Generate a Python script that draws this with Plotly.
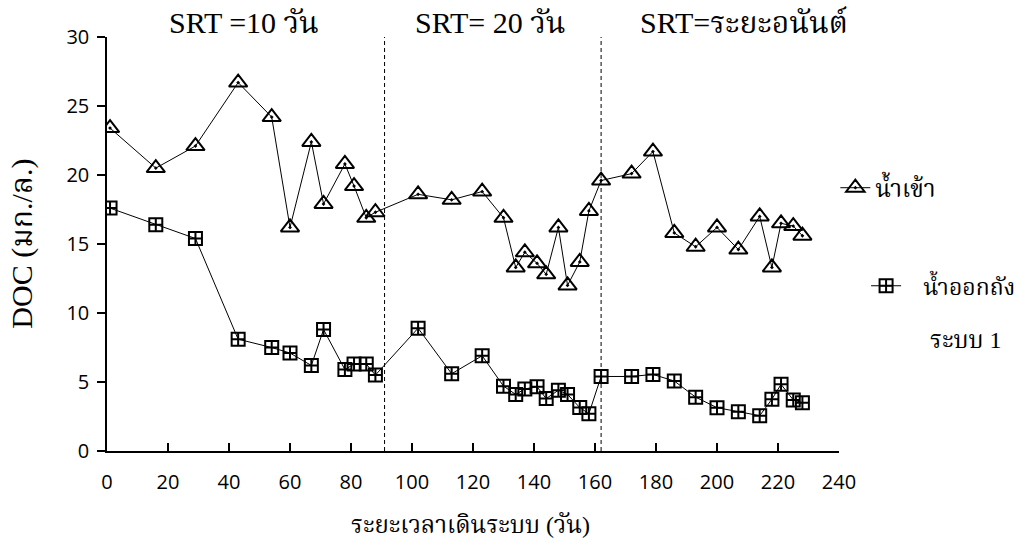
import plotly.graph_objects as go

# Operating days of the reactor and DOC readings (mg/L)
inflow_days = [1, 16, 29, 43, 54, 60, 67, 71, 78, 81, 85, 88,
               102, 113, 123, 130, 134, 137, 141, 144, 148, 151, 155, 158, 162,
               172, 179, 186, 193, 200, 207, 214, 218, 221, 225, 228]
inflow_doc = [23.4, 20.5, 22.1, 26.7, 24.2, 16.2, 22.4, 17.9, 20.8, 19.2, 16.9, 17.3,
              18.6, 18.2, 18.8, 16.9, 13.3, 14.4, 13.6, 12.8, 16.2, 12.0, 13.7, 17.4, 19.6,
              20.1, 21.7, 15.8, 14.8, 16.2, 14.6, 17.0, 13.3, 16.5, 16.3, 15.6]

outflow_days = inflow_days
outflow_doc = [17.6, 16.4, 15.4, 8.1, 7.5, 7.1, 6.2, 8.8, 5.9, 6.3, 6.3, 5.5,
               8.9, 5.6, 6.9, 4.7, 4.1, 4.5, 4.65, 3.8, 4.4, 4.1, 3.15, 2.7, 5.4,
               5.4, 5.55, 5.07, 3.9, 3.14, 2.85, 2.56, 3.75, 4.83, 3.7, 3.5]

# SRT phase boundaries (days) and phase labels
phase_bounds = [91, 162]
phase_labels = ["SRT =10 วัน", "SRT= 20 วัน", "SRT=ระยะอนันต์"]
phase_label_x = [45, 125.5, 209]

x_ticks = list(range(0, 241, 20))
y_ticks = list(range(0, 31, 5))

SERIF = "Liberation Serif, Noto Serif Thai, Noto Sans Thai, serif"
SANS = "Liberation Sans Narrow, Open Sans, Noto Sans Thai, sans-serif"
NBSP = "\u00a0"

fig = go.Figure()

fig.add_trace(go.Scatter(
    x=inflow_days, y=inflow_doc, mode="lines+markers", name="น้ำเข้า",
    line=dict(color="black", width=1),
    marker=dict(symbol="triangle-up-open-dot", size=16, color="black",
                line=dict(color="black", width=2)),
    legend="legend",
))
fig.add_trace(go.Scatter(
    x=outflow_days, y=outflow_doc, mode="lines+markers",
    name=NBSP * 3 + "น้ำออกถัง",
    line=dict(color="black", width=1),
    marker=dict(symbol="square-cross-open", size=13, color="black",
                line=dict(color="black", width=2)),
    legend="legend2",
))

for xb in phase_bounds:
    fig.add_shape(type="line", xref="x", yref="y", x0=xb, x1=xb, y0=0, y1=30,
                  line=dict(color="black", width=1, dash="4px,3px"))

for lbl, lx in zip(phase_labels, phase_label_x):
    fig.add_annotation(text=lbl, x=lx, xref="x", y=1.036, yref="paper",
                       xanchor="center", yanchor="middle", showarrow=False,
                       font=dict(family=SERIF, size=30, color="black"))

fig.add_annotation(text="DOC (มก./ล.)", x=-0.1166, xref="paper", y=0.5, yref="paper",
                   xanchor="center", yanchor="middle", textangle=-90, showarrow=False,
                   font=dict(family=SERIF, size=30, color="black"))
fig.add_annotation(text="ระยะเวลาเดินระบบ (วัน)", x=0.4965, xref="paper", y=-0.179,
                   yref="paper", xanchor="center", yanchor="middle", showarrow=False,
                   font=dict(family=SERIF, size=24, color="black"))
# second line of the outflow legend label
fig.add_annotation(text="ระบบ 1", x=1.122, xref="paper", y=0.268, yref="paper",
                   xanchor="left", yanchor="middle", showarrow=False,
                   font=dict(family=SERIF, size=24, color="black"))

fig.update_layout(
    width=1033, height=551,
    margin=dict(l=107, r=194, t=37, b=100, autoexpand=False),
    plot_bgcolor="white", paper_bgcolor="white",
    showlegend=True,
    font=dict(family=SANS, size=20, color="black"),
    xaxis=dict(range=[0, 240], tickvals=x_ticks, showgrid=False, zeroline=False,
               showline=True, linecolor="black", linewidth=1.5,
               ticks="inside", ticklen=8, tickcolor="black", tickwidth=1.5,
               ticklabelstandoff=12),
    yaxis=dict(range=[0, 30], tickvals=y_ticks, showgrid=False, zeroline=False,
               showline=True, linecolor="black", linewidth=1.5,
               ticks="outside", ticklen=8, tickcolor="black", tickwidth=1.5,
               ticklabelstandoff=4),
    legend=dict(x=0.995, xanchor="left", y=0.635, yanchor="middle",
                font=dict(family=SERIF, size=24), bgcolor="rgba(0,0,0,0)"),
    legend2=dict(x=1.037, xanchor="left", y=0.399, yanchor="middle",
                 font=dict(family=SERIF, size=23), bgcolor="rgba(0,0,0,0)"),
)

fig.write_html("out.html")
